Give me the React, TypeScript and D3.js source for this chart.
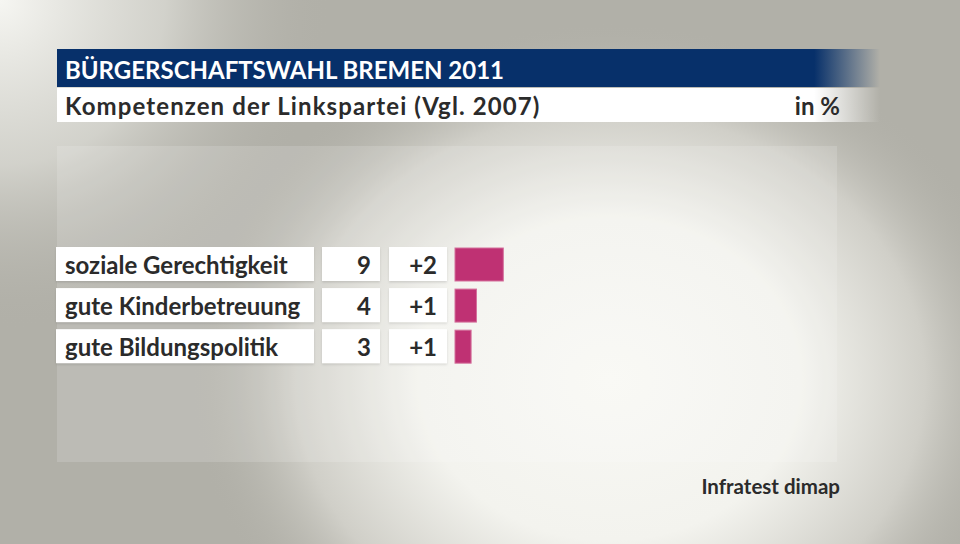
import React from "react";
import * as d3 from "d3";

const categories = ["soziale Gerechtigkeit", "gute Kinderbetreuung", "gute Bildungspolitik"];
const values = [9, 4, 3];
const changes = ["+2", "+1", "+1"];
const title = "BÜRGERSCHAFTSWAHL BREMEN 2011";
const subtitle = "Kompetenzen der Linkspartei (Vgl. 2007)";
const unit = "in %";
const source = "Infratest dimap";

const W = 960;
const H = 544;
const FONT = "Lato, 'Open Sans', sans-serif";

export default function App() {
  const y = d3
    .scaleBand<string>()
    .domain(categories)
    .range([247, 247 + 39.3 * categories.length])
    .paddingInner(0.13)
    .paddingOuter(0);
  const x = d3.scaleLinear().domain([0, 9]).range([455, 503.3]);
  const bh = 34;

  return (
    <svg width={W} height={H} style={{ position: "absolute", left: 0, top: 0 }}>
      <defs>
        <radialGradient id="bgLight" cx="610" cy="380" r="420" gradientUnits="userSpaceOnUse" gradientTransform="translate(610 380) scale(1 0.85) translate(-610 -380)">
          <stop offset="0" stopColor="#f8f8f4" />
          <stop offset="0.45" stopColor="#f3f3ee" />
          <stop offset="0.75" stopColor="#d0cfc8" />
          <stop offset="1" stopColor="#b1b0a8" stopOpacity="0" />
        </radialGradient>
        <radialGradient id="bgTL" cx="0" cy="0" r="330" gradientUnits="userSpaceOnUse">
          <stop offset="0" stopColor="#f6f6f2" />
          <stop offset="0.5" stopColor="#e0e0da" stopOpacity="0.7" />
          <stop offset="1" stopColor="#b1b0a8" stopOpacity="0" />
        </radialGradient>
        <linearGradient id="fadeBlue" x1="57" x2="880" gradientUnits="userSpaceOnUse">
          <stop offset="0" stopColor="#07306a" />
          <stop offset="0.92" stopColor="#07306a" />
          <stop offset="1" stopColor="#07306a" stopOpacity="0" />
        </linearGradient>
        <linearGradient id="fadeWhite" x1="57" x2="880" gradientUnits="userSpaceOnUse">
          <stop offset="0" stopColor="#ffffff" />
          <stop offset="0.92" stopColor="#ffffff" />
          <stop offset="1" stopColor="#ffffff" stopOpacity="0" />
        </linearGradient>
        <filter id="sh" x="-5%" y="-20%" width="110%" height="150%">
          <feDropShadow dx="0" dy="1.5" stdDeviation="1" floodColor="#000" floodOpacity="0.12" />
        </filter>
      </defs>
      <rect width={W} height={H} fill="#b1b0a8" />
      <rect width={W} height={H} fill="url(#bgTL)" />
      <rect width={W} height={H} fill="url(#bgLight)" />

      {/* panel */}
      <rect x={57} y={146} width={780} height={316} fill="#ffffff" opacity={0.15} />

      {/* title bars */}
      <rect x={57} y={49} width={823} height={38} fill="url(#fadeBlue)" />
      <rect x={57} y={88} width={823} height={34} fill="url(#fadeWhite)" />
      <text x={65} y={79} fill="#ffffff" fontFamily={FONT} fontWeight={700} fontSize={24}>
        {title}
      </text>
      <text x={65} y={115} fill="#2b2b2b" fontFamily={FONT} fontWeight={700} fontSize={24} letterSpacing={1.1}>
        {subtitle}
      </text>
      <text x={840} y={115} fill="#2b2b2b" fontFamily={FONT} fontWeight={700} fontSize={24} textAnchor="end">
        {unit}
      </text>

      {categories.map((c, i) => {
        const top = y(c)!;
        return (
          <g key={c}>
            <rect x={56} y={top} width={258} height={bh} fill="#fff" filter="url(#sh)" />
            <rect x={322} y={top} width={58} height={bh} fill="#fff" filter="url(#sh)" />
            <rect x={389} y={top} width={58} height={bh} fill="#fff" filter="url(#sh)" />
            <rect
              x={x(0)}
              y={top + 1}
              width={x(values[i]) - x(0)}
              height={bh - 1}
              fill="#bf3173"
              stroke="#d4709c"
              strokeWidth={1}
            />
            <text x={65} y={top + 27} fill="#2b2b2b" fontFamily={FONT} fontWeight={700} fontSize={24}>
              {c}
            </text>
            <text x={371} y={top + 27} fill="#2b2b2b" fontFamily={FONT} fontWeight={700} fontSize={24} textAnchor="end">
              {values[i]}
            </text>
            <text x={437} y={top + 27} fill="#2b2b2b" fontFamily={FONT} fontWeight={700} fontSize={24} textAnchor="end">
              {changes[i]}
            </text>
          </g>
        );
      })}

      <text x={840} y={494} fill="#2b2b2b" fontFamily={FONT} fontWeight={700} fontSize={20.5} textAnchor="end">
        {source}
      </text>
    </svg>
  );
}
